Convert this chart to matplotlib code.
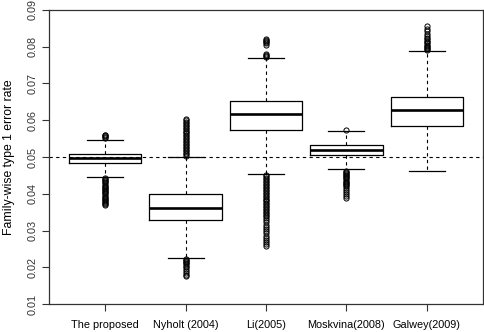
import matplotlib
matplotlib.use("Agg")
import matplotlib.pyplot as plt

plt.rcParams['font.family'] = ['Liberation Sans', 'DejaVu Sans']

categories = ["The proposed", "Nyholt (2004)", "Li(2005)", "Moskvina(2008)", "Galwey(2009)"]
q1 = [0.0483, 0.0329, 0.0573, 0.0505, 0.0584]
medians = [0.0497, 0.0360, 0.0616, 0.0518, 0.0629]
q3 = [0.0509, 0.0399, 0.0652, 0.0533, 0.0664]
whisker_low = [0.0446, 0.0226, 0.0454, 0.0466, 0.0463]
whisker_high = [0.0545, 0.0501, 0.0769, 0.0570, 0.0788]

fliers_proposed = [0.0553, 0.0555, 0.0557, 0.0559, 0.0561,
                   0.0443, 0.0440, 0.0437, 0.0434, 0.0431, 0.0428, 0.0425, 0.0422,
                   0.0419, 0.0416, 0.0413, 0.0410, 0.0407, 0.0404, 0.0401, 0.0398,
                   0.0395, 0.0392, 0.0389, 0.0386, 0.0383, 0.0380, 0.0377, 0.0374,
                   0.0371, 0.0369]
fliers_nyholt = [0.0504, 0.0508, 0.0512, 0.0516, 0.0520, 0.0524, 0.0528, 0.0532,
                 0.0536, 0.0540, 0.0544, 0.0548, 0.0552, 0.0556, 0.0560, 0.0564,
                 0.0568, 0.0572, 0.0576, 0.0580, 0.0584, 0.0588, 0.0592, 0.0596,
                 0.0600, 0.0603,
                 0.0223, 0.0220, 0.0217, 0.0214, 0.0211, 0.0208, 0.0204, 0.0200,
                 0.0195, 0.0190, 0.0185, 0.0180, 0.0176]
fliers_li = [0.0772, 0.0775, 0.0778, 0.0781, 0.0806, 0.0809, 0.0812, 0.0815,
             0.0818, 0.0821,
             0.0451, 0.0447, 0.0443, 0.0439, 0.0435, 0.0431, 0.0427, 0.0423,
             0.0419, 0.0415, 0.0411, 0.0407, 0.0403, 0.0399, 0.0395, 0.0391,
             0.0387, 0.0383, 0.0379, 0.0375, 0.0371, 0.0367, 0.0363, 0.0359,
             0.0355, 0.0351, 0.0347, 0.0343, 0.0339, 0.0334, 0.0328, 0.0322,
             0.0316, 0.0310, 0.0304, 0.0298, 0.0292, 0.0286, 0.0280, 0.0274,
             0.0268, 0.0263, 0.0258]
fliers_moskvina = [0.0574,
                   0.0463, 0.0460, 0.0457, 0.0454, 0.0451, 0.0448, 0.0445, 0.0442,
                   0.0439, 0.0436, 0.0433, 0.0430, 0.0427, 0.0424, 0.0420, 0.0416,
                   0.0411, 0.0406, 0.0400, 0.0394, 0.0388]
fliers_galwey = [0.0791, 0.0794, 0.0797, 0.0800, 0.0803, 0.0806, 0.0809, 0.0812,
                 0.0816, 0.0820, 0.0825, 0.0830, 0.0836, 0.0842, 0.0849, 0.0856]
fliers = [fliers_proposed, fliers_nyholt, fliers_li, fliers_moskvina, fliers_galwey]

y_ticks = [0.01, 0.02, 0.03, 0.04, 0.05, 0.06, 0.07, 0.08, 0.09]
y_tick_labels = ["0.01", "0.02", "0.03", "0.04", "0.05", "0.06", "0.07", "0.08", "0.09"]
reference_level = 0.05

stats = []
for i, name in enumerate(categories):
    stats.append(dict(label=name, med=medians[i], q1=q1[i], q3=q3[i],
                      whislo=whisker_low[i], whishi=whisker_high[i],
                      fliers=fliers[i]))

fig = plt.figure(figsize=(4.84, 3.32), dpi=100)
ax = fig.add_axes([0.1012, 0.0843, 0.8968, 0.8856])

ax.axhline(reference_level, color='black', linestyle=(0, (3, 3)), linewidth=0.8, zorder=1)

ax.bxp(stats, positions=range(1, 6), widths=0.9, showfliers=True, patch_artist=False,
       boxprops=dict(color='black', linewidth=0.9),
       medianprops=dict(color='black', linewidth=1.9, solid_capstyle='butt'),
       whiskerprops=dict(color='black', linewidth=0.8, linestyle=(0, (3, 3))),
       capprops=dict(color='black', linewidth=0.9),
       capwidths=0.45,
       flierprops=dict(marker='o', markerfacecolor='none', markeredgecolor='black',
                       markersize=3.7, markeredgewidth=0.7, linestyle='none'))

ax.set_xlim(0.3, 5.7)
ax.set_ylim(0.01, 0.09)
ax.set_yticks(y_ticks)
ax.set_yticklabels(y_tick_labels, rotation=90, va='center', fontsize=7.8, color='#333333')
ax.set_xticks(range(1, 6))
ax.set_xticklabels(categories, fontsize=7.8)
ax.tick_params(axis='both', length=5, width=0.8, color='#333333')
ax.tick_params(axis='x', pad=6.5)
ax.tick_params(axis='y', pad=3)
for s in ax.spines.values():
    s.set_linewidth(0.9)
    s.set_color('#333333')
ax.set_ylabel("Family-wise type 1 error rate", fontsize=8.8, va='center')
ax.yaxis.set_label_coords(-0.093, 0.5)

fig.savefig("out.png", dpi=100)
